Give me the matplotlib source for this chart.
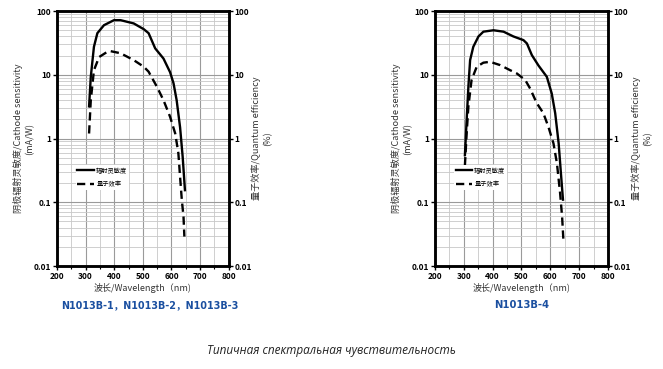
import matplotlib
matplotlib.use("Agg")
import matplotlib.pyplot as plt
from matplotlib.ticker import MultipleLocator, LogLocator, FixedLocator, FixedFormatter, NullFormatter

plt.rcParams["font.family"] = ["Noto Sans CJK SC", "DejaVu Sans"]

# N1013B-1/2/3 (left chart)
wl_sens_a = [312, 318, 329, 341, 364, 399, 422, 468, 503, 520, 543, 572, 595, 607, 618, 630, 639, 647]
sens_a = [3.2, 9.3, 27.5, 45, 60, 72, 72, 64, 52, 45, 26, 18, 11, 7.4, 4.0, 1.5, 0.52, 0.155]
wl_qe_a = [312, 318, 329, 347, 376, 387, 422, 468, 503, 520, 549, 572, 595, 613, 624, 630, 636, 642, 645]
qe_a = [1.2, 4.0, 11.8, 19, 23, 23.5, 21.8, 17, 13.4, 11.2, 6.5, 4.0, 2.2, 1.2, 0.59, 0.25, 0.11, 0.059, 0.029]

# N1013B-4 (right chart)
wl_sens_b = [304, 310, 316, 322, 333, 351, 368, 403, 438, 472, 507, 519, 536, 559, 588, 605, 617, 629, 637, 644]
sens_b = [0.55, 1.95, 6.5, 17, 27.5, 40, 47.5, 50, 47.5, 40, 35, 31, 20.4, 14, 9.3, 5.1, 2.5, 0.84, 0.28, 0.11]
wl_qe_b = [304, 310, 316, 327, 345, 368, 391, 426, 461, 484, 513, 530, 553, 576, 594, 611, 623, 634, 641, 646]
qe_b = [0.38, 1.2, 3.2, 8.3, 13.4, 15.5, 16, 14.2, 11.8, 10.5, 8.3, 6.1, 3.6, 2.5, 1.5, 0.84, 0.41, 0.14, 0.059, 0.023]

x_ticks = [200, 300, 400, 500, 600, 700, 800]
y_ticks = [0.01, 0.1, 1, 10, 100]
y_tick_labels = ["0.01", "0.1", "1", "10", "100"]
legend_labels = ["辐射灵敏度", "量子效率"]
model_titles = ["N1013B-1，N1013B-2，N1013B-3", "N1013B-4"]
caption = "Типичная спектральная чувствительность"

BLUE = "#1a4fa0"
DASH = (0, (3.5, 2))


def draw_chart(ax, wl_s, s, wl_q, q):
    ax.set_xlim(200, 800)
    ax.set_ylim(0.01, 100)
    ax.set_yscale("log")
    ax.xaxis.set_major_locator(FixedLocator(x_ticks))
    ax.xaxis.set_minor_locator(MultipleLocator(50))
    ax.yaxis.set_major_locator(FixedLocator(y_ticks))
    ax.yaxis.set_major_formatter(FixedFormatter(y_tick_labels))
    ax.yaxis.set_minor_locator(LogLocator(base=10, subs=range(2, 10)))
    ax.yaxis.set_minor_formatter(NullFormatter())
    ax.grid(which="major", color="#9a9a9a", lw=0.8)
    ax.grid(which="minor", color="#c8c8c8", lw=0.6)
    ax.set_axisbelow(True)
    for sp in ax.spines.values():
        sp.set_linewidth(1.8)
    ax.tick_params(which="major", labelsize=6, length=3, width=1, direction="out", pad=1)
    ax.tick_params(which="minor", length=0)
    ax.tick_params(axis="x", which="minor", length=2, width=0.8)
    for lab in ax.get_xticklabels() + ax.get_yticklabels():
        lab.set_fontweight("bold")

    l1, = ax.plot(wl_s, s, color="black", lw=1.7)
    l2, = ax.plot(wl_q, q, color="black", lw=1.7, ls=DASH)

    ax2 = ax.twinx()
    ax2.set_yscale("log")
    ax2.set_ylim(0.01, 100)
    ax2.yaxis.set_major_locator(FixedLocator(y_ticks))
    ax2.yaxis.set_major_formatter(FixedFormatter(y_tick_labels))
    ax2.yaxis.set_minor_locator(LogLocator(base=10, subs=range(2, 10)))
    ax2.yaxis.set_minor_formatter(NullFormatter())
    ax2.tick_params(which="major", labelsize=6, length=3, width=1, direction="out", pad=1)
    ax2.tick_params(which="minor", length=0)
    for lab in ax2.get_yticklabels():
        lab.set_fontweight("bold")
    for sp in ax2.spines.values():
        sp.set_linewidth(1.8)

    ax.set_xlabel("波长/Wavelength（nm)", fontsize=6.5, color="#333333", labelpad=2)
    ax.set_ylabel("阴极辐射灵敏度/Cathode sensitivity\n(mA/W)", fontsize=6.6, color="#333333",
                  labelpad=0, linespacing=1.3)
    ax2.set_ylabel("量子效率/Quantum efficiency\n(%)", fontsize=6.6, color="#333333",
                   labelpad=0, linespacing=1.3)

    leg = ax.legend([l1, l2], legend_labels, loc="upper left", bbox_to_anchor=(0.09, 0.41),
                    fontsize=4.5, frameon=True, framealpha=1, edgecolor="white",
                    handlelength=2.6, handletextpad=0.4, borderpad=0.3, labelspacing=0.9)
    leg.get_frame().set_linewidth(0)


fig = plt.figure(figsize=(6.63, 3.69), dpi=100)
ax_a = fig.add_axes([0.086, 0.279, 0.259, 0.691])
ax_b = fig.add_axes([0.656, 0.279, 0.261, 0.691])

draw_chart(ax_a, wl_sens_a, sens_a, wl_qe_a, qe_a)
draw_chart(ax_b, wl_sens_b, sens_b, wl_qe_b, qe_b)

fig.text(0.226, 0.173, model_titles[0], color=BLUE, fontsize=6.9, fontweight="bold",
         ha="center", va="center", family=["DejaVu Sans", "Noto Sans CJK SC"])
fig.text(0.787, 0.173, model_titles[1], color=BLUE, fontsize=7.2, fontweight="bold",
         ha="center", va="center", family=["DejaVu Sans", "Noto Sans CJK SC"])
fig.text(0.5, 0.05, caption, fontsize=8.5, style="italic", color="#222222",
         ha="center", va="center", family=["Open Sans", "DejaVu Sans"])

fig.savefig("out.png", dpi=100, facecolor="white")
